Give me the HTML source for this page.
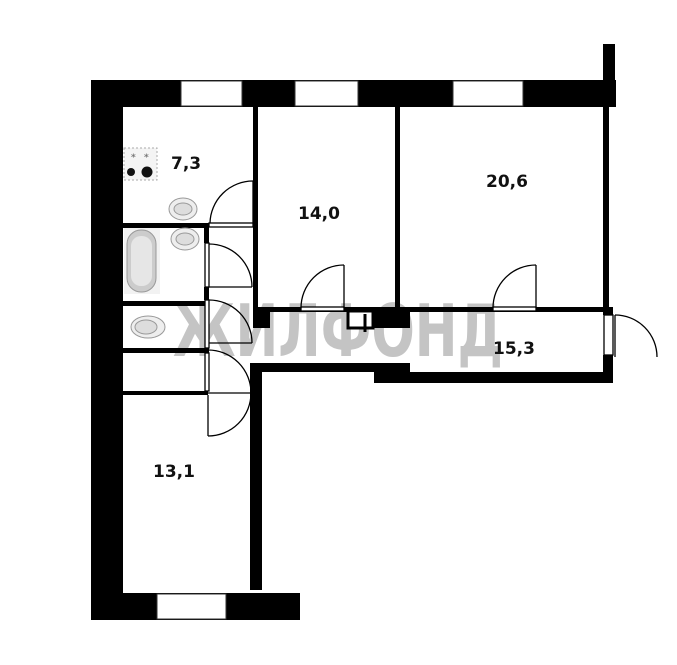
<!DOCTYPE html>
<html><head><meta charset="utf-8"><style>
html,body{margin:0;padding:0;background:#fff;width:677px;height:665px;overflow:hidden}
svg{display:block}
text{font-family:"DejaVu Sans","Liberation Sans",sans-serif;font-weight:bold}
</style></head><body>
<svg width="677" height="665" viewBox="0 0 677 665" xmlns="http://www.w3.org/2000/svg">
<!-- watermark -->
<text x="338" y="356" font-size="72" fill="#c4c4c4" text-anchor="middle" textLength="330" lengthAdjust="spacingAndGlyphs">ЖИЛФОНД</text>
<g fill="#000">
<!-- top wall -->
<rect x="91" y="80" width="525" height="27"/>
<!-- right stub -->
<rect x="603" y="44" width="12" height="63"/>
<!-- left wall -->
<rect x="91" y="80" width="32" height="540"/>
<rect x="91" y="391" width="27" height="229"/>
<!-- bottom wall -->
<rect x="91" y="593" width="209" height="27"/>
<!-- interior walls -->
<rect x="253" y="107" width="5" height="205"/>
<rect x="395" y="107" width="5" height="205"/>
<rect x="603" y="107" width="6" height="205"/>
<rect x="253" y="307" width="360" height="5"/>
<rect x="253" y="307" width="17" height="21"/>
<rect x="373" y="307" width="37" height="21"/>
<rect x="603" y="307" width="10" height="8"/>
<rect x="603" y="355" width="10" height="28"/>
<!-- hallway bottom -->
<rect x="250" y="363" width="160" height="9"/>
<rect x="374" y="363" width="36" height="20"/>
<rect x="374" y="372" width="239" height="11"/>
<rect x="250" y="363" width="12" height="227"/>
<!-- kitchen / bath partitions -->
<rect x="123" y="223" width="86" height="5"/>
<rect x="123" y="301" width="86" height="5"/>
<rect x="123" y="348" width="86" height="5"/>
<rect x="118" y="391" width="90" height="4"/>
<rect x="204" y="223" width="5" height="20"/>
<rect x="204" y="287" width="5" height="13"/>
</g>
<!-- windows -->
<g fill="#fff" stroke="#333" stroke-width="1">
<rect x="181" y="81" width="61" height="25"/>
<rect x="295" y="81" width="63" height="25"/>
<rect x="453" y="81" width="70" height="25"/>
<rect x="157" y="594" width="69" height="25"/>
</g>
<!-- small box with cross -->
<rect x="348" y="311" width="25" height="17" fill="#fff" stroke="#000" stroke-width="3"/>
<line x1="365" y1="314" x2="365" y2="332" stroke="#000" stroke-width="3"/>
<!-- door sills & doors -->
<g fill="none" stroke="#000" stroke-width="1.3">
<rect x="209" y="223" width="44" height="4" fill="#fff"/>
<path d="M253 181 A43 43 0 0 0 210 223"/>
<line x1="253" y1="181" x2="253" y2="223"/>
<rect x="301" y="307" width="43" height="4" fill="#fff"/>
<path d="M344 265 A43 43 0 0 0 301 308"/><line x1="344" y1="265" x2="344" y2="308"/>
<rect x="493" y="307" width="43" height="4" fill="#fff"/>
<path d="M536 265 A43 43 0 0 0 493 308"/><line x1="536" y1="265" x2="536" y2="308"/>
<rect x="205" y="243" width="4" height="44" fill="#fff"/>
<path d="M209 244 A43 43 0 0 1 252 287"/><line x1="209" y1="287" x2="252" y2="287"/>
<rect x="205" y="300" width="4" height="48" fill="#fff"/>
<path d="M209 300 A43 43 0 0 1 252 343"/><line x1="209" y1="343" x2="252" y2="343"/>
<rect x="205" y="353" width="4" height="38" fill="#fff"/>
<path d="M208 350 A43 43 0 0 1 208 436"/><line x1="208" y1="393" x2="250" y2="393"/>
<line x1="208" y1="395" x2="208" y2="436"/>
<rect x="604" y="315" width="9" height="40" fill="#fff"/>
<path d="M615 315 A42 42 0 0 1 657 357"/><line x1="615" y1="315" x2="615" y2="357"/>
</g>
<!-- stove -->
<rect x="124" y="148" width="33" height="32" fill="#f4f4f4" stroke="#aaa" stroke-dasharray="2,2"/>
<text x="131" y="160" font-size="9" fill="#777">*</text><text x="144" y="160" font-size="9" fill="#777">*</text>
<circle cx="131" cy="172" r="4" fill="#111"/><circle cx="147" cy="172" r="5.5" fill="#111"/>
<!-- sinks -->
<g fill="#eee" stroke="#999">
<ellipse cx="183" cy="209" rx="14" ry="11"/><ellipse cx="183" cy="209" rx="9" ry="6" fill="#ddd"/>
<ellipse cx="185" cy="239" rx="14" ry="11"/><ellipse cx="185" cy="239" rx="9" ry="6" fill="#ddd"/>
<rect x="124" y="228" width="36" height="66" fill="#f2f2f2" stroke="none"/>
<rect x="127" y="230" width="29" height="62" rx="14" fill="#ccc"/>
<rect x="131" y="236" width="21" height="50" rx="10" fill="#e6e6e6" stroke="none"/>
<ellipse cx="148" cy="327" rx="17" ry="11"/><ellipse cx="146" cy="327" rx="11" ry="7" fill="#ddd"/>
</g>
<!-- labels -->
<g font-size="17" fill="#111">
<text x="171" y="169">7,3</text>
<text x="298" y="219">14,0</text>
<text x="486" y="187">20,6</text>
<text x="493" y="354">15,3</text>
<text x="153" y="477">13,1</text>
</g>
</svg>
</body></html>
